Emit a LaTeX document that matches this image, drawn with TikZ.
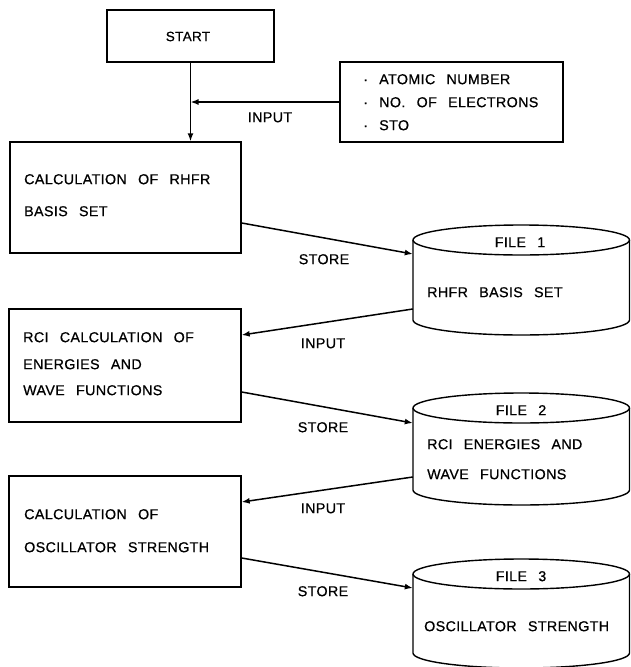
\documentclass[tikz,border=0pt]{standalone}
\usepackage{fontspec}
\setmainfont{Liberation Sans}[LetterSpace=2.5, WordSpace=2.6, FakeBold=0.6]
\usetikzlibrary{arrows.meta}
\begin{document}
\begin{tikzpicture}[x=1pt,y=-1pt,
  font=\fontsize{14.3}{17}\selectfont,
  boxnode/.style={draw, line width=1.4pt, inner sep=0pt, minimum width=#1},
  txt/.style={inner sep=0pt, text height=10.3pt, text depth=0pt},
  lefttxt/.style={txt, anchor=west},
  cylarea/.style={draw=none, inner sep=0pt, minimum width=216.5pt},
  arr/.style={line width=1.5pt, -{Latex[length=8pt,width=6pt]}},
  cylline/.style={line width=1.4pt}]
\fill[white] (0,0) rectangle (631,667);
\useasboundingbox (0,0) rectangle (631,667);

% START and input box
\node[boxnode=167pt, minimum height=52pt] (start) at (190.5,36) {};
\node[txt, font=\fontsize{13.5}{16}\selectfont] (starttxt) at (188,36) {START};
\node[boxnode=223pt, minimum height=80pt] (inp) at (451.5,102) {};
\node[lefttxt] (i1) at (363,79) {· ATOMIC NUMBER};
\node[lefttxt] (i2) at (363,102) {· NO. OF ELECTRONS};
\node[lefttxt] (i3) at (363,125) {· STO};

% left boxes
\node[boxnode=231pt, minimum height=111pt] (b1) at (125.5,197.5) {};
\node[lefttxt] (b1a) at (24,179) {CALCULATION OF RHFR};
\node[lefttxt] (b1b) at (24,211) {BASIS SET};

\node[boxnode=232pt, minimum height=113pt] (b2) at (125,365.5) {};
\node[lefttxt] (b2a) at (23,337) {RCI CALCULATION OF};
\node[lefttxt] (b2b) at (23,364) {ENERGIES AND};
\node[lefttxt] (b2c) at (23,390) {WAVE FUNCTIONS};

\node[boxnode=232pt, minimum height=111pt] (b3) at (125,531.5) {};
\node[lefttxt] (b3a) at (24,514) {CALCULATION OF};
\node[lefttxt] (b3b) at (24,547) {OSCILLATOR STRENGTH};

% cylinders
\newcommand{\cylshape}[3]{% center x, top ellipse y, side end y
  \draw[cylline] (#1,#2) ellipse [x radius=108.25, y radius=15];
  \draw[cylline] (#1-108.25,#2) -- (#1-108.25,#3)
     arc[start angle=180, end angle=360, x radius=108.25pt, y radius=15pt]
     -- (#1+108.25,#2);
}
\cylshape{521.25}{240}{320}
\cylshape{521.25}{408}{490}
\cylshape{521.25}{574}{653}

\node[cylarea, minimum height=80pt] (f1) at (521.25,280) {};
\node[cylarea, minimum height=82pt] (f2) at (521.25,449) {};
\node[cylarea, minimum height=79pt] (f3) at (521.25,613.5) {};

\node[txt] (f1t) at (520,242) {FILE 1};
\node[lefttxt] (f1a) at (427,292) {RHFR BASIS SET};
\node[txt] (f2t) at (521,410) {FILE 2};
\node[lefttxt] (f2a) at (427,444) {RCI ENERGIES AND};
\node[lefttxt] (f2b) at (427,474) {WAVE FUNCTIONS};
\node[txt] (f3t) at (521,576) {FILE 3};
\node[lefttxt] (f3a) at (424,626) {OSCILLATOR STRENGTH};

% connectors
\draw[arr] (start.south) -- (start.south |- b1.north);
\draw[arr] (inp.west) -- (inp.west -| start.south);
\node[txt] (l0) at (270,117) {INPUT};

\draw[arr] ([yshift=-25.5pt]b1.east) -- ([yshift=26pt]f1.west);
\node[txt] (l1) at (324,259) {STORE};
\draw[arr] ([yshift=-29pt]f1.west) -- ([yshift=30.5pt]b2.east);
\node[txt] (l2) at (323,343) {INPUT};

\draw[arr] ([yshift=-26.5pt]b2.east) -- ([yshift=26pt]f2.west);
\node[txt] (l3) at (323,427) {STORE};
\draw[arr] ([yshift=-28pt]f2.west) -- ([yshift=29.5pt]b3.east);
\node[txt] (l4) at (323,508) {INPUT};

\draw[arr] ([yshift=-26.5pt]b3.east) -- ([yshift=25.5pt]f3.west);
\node[txt] (l5) at (323,591) {STORE};
\end{tikzpicture}
\end{document}
